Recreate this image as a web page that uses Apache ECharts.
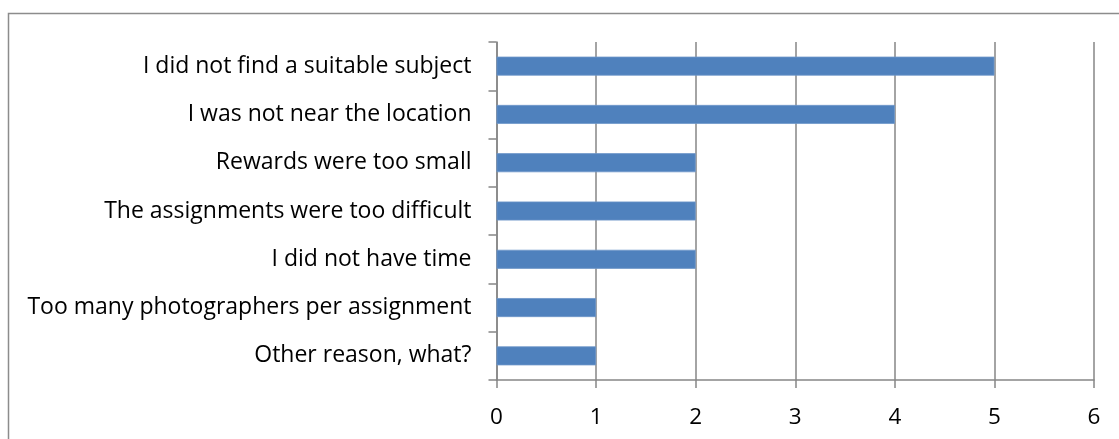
<!DOCTYPE html>
<html>
<head>
<meta charset="utf-8">
<script src="https://cdn.jsdelivr.net/npm/echarts@6/dist/echarts.min.js"></script>
<style>
  html, body { margin: 0; padding: 0; background: #fff; }
  #chart { width: 1119px; height: 439px; }
</style>
</head>
<body>
<div id="chart"></div>
<script>
// Reasons for not taking part, listed bottom to top on the category axis
const reasons = [
  'Other reason, what?',
  'Too many photographers per assignment',
  'I did not have time',
  'The assignments were too difficult',
  'Rewards were too small',
  'I was not near the location',
  'I did not find a suitable subject'
];
const counts = [1, 1, 2, 2, 2, 4, 5];
const valueTicks = [0, 1, 2, 3, 4, 5, 6];

const chart = echarts.init(document.getElementById('chart'), null, { renderer: 'canvas' });
const gridColor = '#868686';
const fontFamily = '"Open Sans", "Liberation Sans", sans-serif';

chart.setOption({
  animation: false,
  graphic: [{
    type: 'rect',
    shape: { x: 8.5, y: 13.5, width: 1130, height: 450 },
    style: { fill: 'none', stroke: '#8c8c8c', lineWidth: 1.5 },
    silent: true
  }],
  grid: { left: 496.5, right: 25, top: 42, bottom: 59 },
  xAxis: {
    type: 'value',
    min: valueTicks[0],
    max: valueTicks[valueTicks.length - 1],
    interval: 1,
    axisLine: { show: true, lineStyle: { color: gridColor, width: 1.5 } },
    axisTick: { show: true, length: 8, lineStyle: { color: gridColor, width: 1.5 } },
    splitLine: { show: true, lineStyle: { color: gridColor, width: 1.5 } },
    axisLabel: { color: '#000', fontSize: 22.5, fontFamily: fontFamily, margin: 26 }
  },
  yAxis: {
    type: 'category',
    data: reasons,
    axisLine: { show: true, lineStyle: { color: gridColor, width: 1.5 } },
    axisTick: { show: true, length: 8, lineStyle: { color: gridColor, width: 1.5 } },
    axisLabel: { color: '#000', fontSize: 23, fontFamily: fontFamily, margin: 25, padding: [5, 0, 0, 0] }
  },
  series: [{
    type: 'bar',
    data: counts,
    barWidth: 19,
    itemStyle: { color: '#4f81bd', borderColor: '#6f97c9', borderWidth: 0.8 }
  }]
});
</script>
</body>
</html>
